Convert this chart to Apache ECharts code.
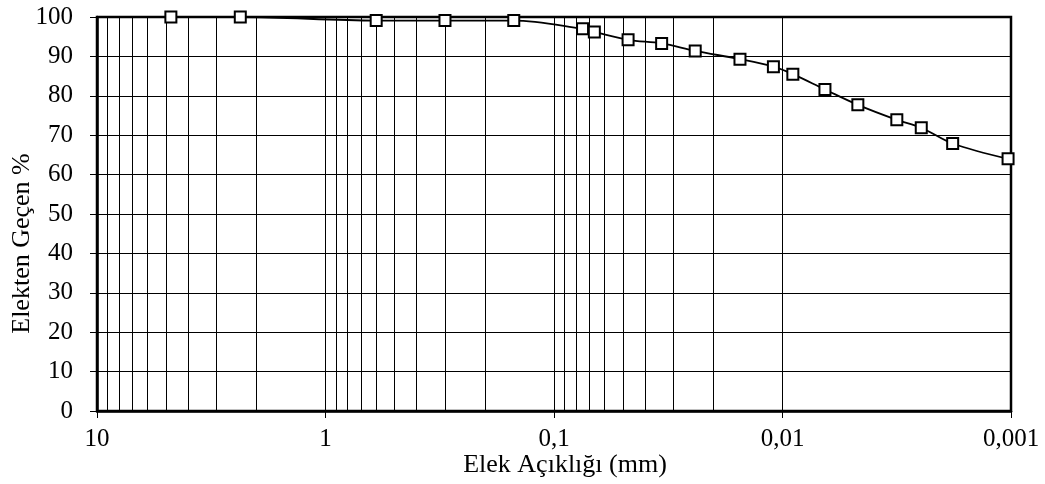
<!DOCTYPE html>
<html>
<head>
<meta charset="utf-8">
<script src="https://cdn.jsdelivr.net/npm/echarts@6/dist/echarts.min.js"></script>
<style>
  html, body { margin: 0; padding: 0; background: #fff; }
  #chart { width: 1045px; height: 484px; }
</style>
</head>
<body>
<div id="chart"></div>
<script>
// Sieve / hydrometer particle sizes (mm) and percent passing
const sizes = [4.75, 2.36, 0.6, 0.3, 0.15, 0.075, 0.0666, 0.0474, 0.0338, 0.0241,
               0.01535, 0.01096, 0.00901, 0.00652, 0.00468, 0.00316, 0.00247, 0.0018, 0.00103];
const passing = [100, 100, 99.1, 99.1, 99.1, 97.0, 96.2, 94.2, 93.3, 91.4,
                 89.3, 87.4, 85.5, 81.6, 77.7, 73.9, 71.9, 67.9, 64.0];

// Decade tick labels (largest to smallest) and their exponents
const xTickLabels = ['10', '1', '0,1', '0,01', '0,001'];
const xTickExponents = [1, 0, -1, -2, -3];
const yTicks = [0, 10, 20, 30, 40, 50, 60, 70, 80, 90, 100];

// Intermediate log gridlines: 2..9 within every decade
const minorGrid = [];
for (let e = -3; e < 1; e++) {
  for (let m = 2; m <= 9; m++) minorGrid.push(m * Math.pow(10, e));
}

const FONT = '"Liberation Serif", "Times New Roman", serif';
const chart = echarts.init(document.getElementById('chart'), null, { renderer: 'canvas' });

chart.setOption({
  animation: false,
  backgroundColor: '#fff',
  grid: {
    left: 97, right: 34, top: 17, bottom: 73,
    containLabel: false, outerBoundsMode: 'none',
    show: true, borderColor: '#000', borderWidth: 2.5, backgroundColor: 'transparent'
  },
  xAxis: {
    type: 'log', logBase: 10, min: 0.001, max: 10, inverse: true,
    name: 'Elek Açıklığı (mm)', nameLocation: 'middle', nameGap: 41, nameMoveOverlap: false,
    nameTextStyle: { fontFamily: FONT, fontSize: 26, color: '#000', padding: [0, 0, 0, 22] },
    axisLine: { show: true, lineStyle: { color: '#000', width: 2.5 } },
    axisTick: { show: true, length: 7, lineStyle: { color: '#000', width: 1 } },
    axisLabel: {
      fontFamily: FONT, fontSize: 25, color: '#000', margin: 16,
      formatter: function (v) {
        const e = Math.round(Math.log10(v));
        const i = xTickExponents.indexOf(e);
        return i >= 0 ? xTickLabels[i] : '';
      }
    },
    splitLine: { show: true, lineStyle: { color: '#000', width: 1 } }
  },
  yAxis: {
    type: 'value', min: yTicks[0], max: yTicks[yTicks.length - 1], interval: 10,
    name: 'Elekten Geçen %', nameLocation: 'middle', nameGap: 62, nameMoveOverlap: false,
    nameTextStyle: { fontFamily: FONT, fontSize: 26, color: '#000', padding: [0, 0, 0, -59] },
    axisLine: { show: true, lineStyle: { color: '#000', width: 2.5 } },
    axisTick: { show: true, inside: false, length: 7, lineStyle: { color: '#000', width: 1 } },
    axisLabel: { fontFamily: FONT, fontSize: 25, color: '#000', margin: 24 },
    splitLine: { show: true, lineStyle: { color: '#000', width: 1 } }
  },
  series: [
    {
      type: 'line',
      data: [],
      silent: true,
      markLine: {
        silent: true,
        symbol: ['none', 'none'],
        label: { show: false },
        lineStyle: { color: '#000', width: 1, type: 'solid' },
        data: minorGrid.map(v => ({ xAxis: v }))
      }
    },
    {
      type: 'line',
      data: sizes.map((s, i) => [s, passing[i]]),
      smooth: 0.35,
      symbol: 'rect',
      symbolSize: 11,
      showAllSymbol: true,
      lineStyle: { color: '#000', width: 1.8 },
      itemStyle: { color: '#fff', borderColor: '#000', borderWidth: 2 },
      z: 5
    }
  ]
});
</script>
</body>
</html>
